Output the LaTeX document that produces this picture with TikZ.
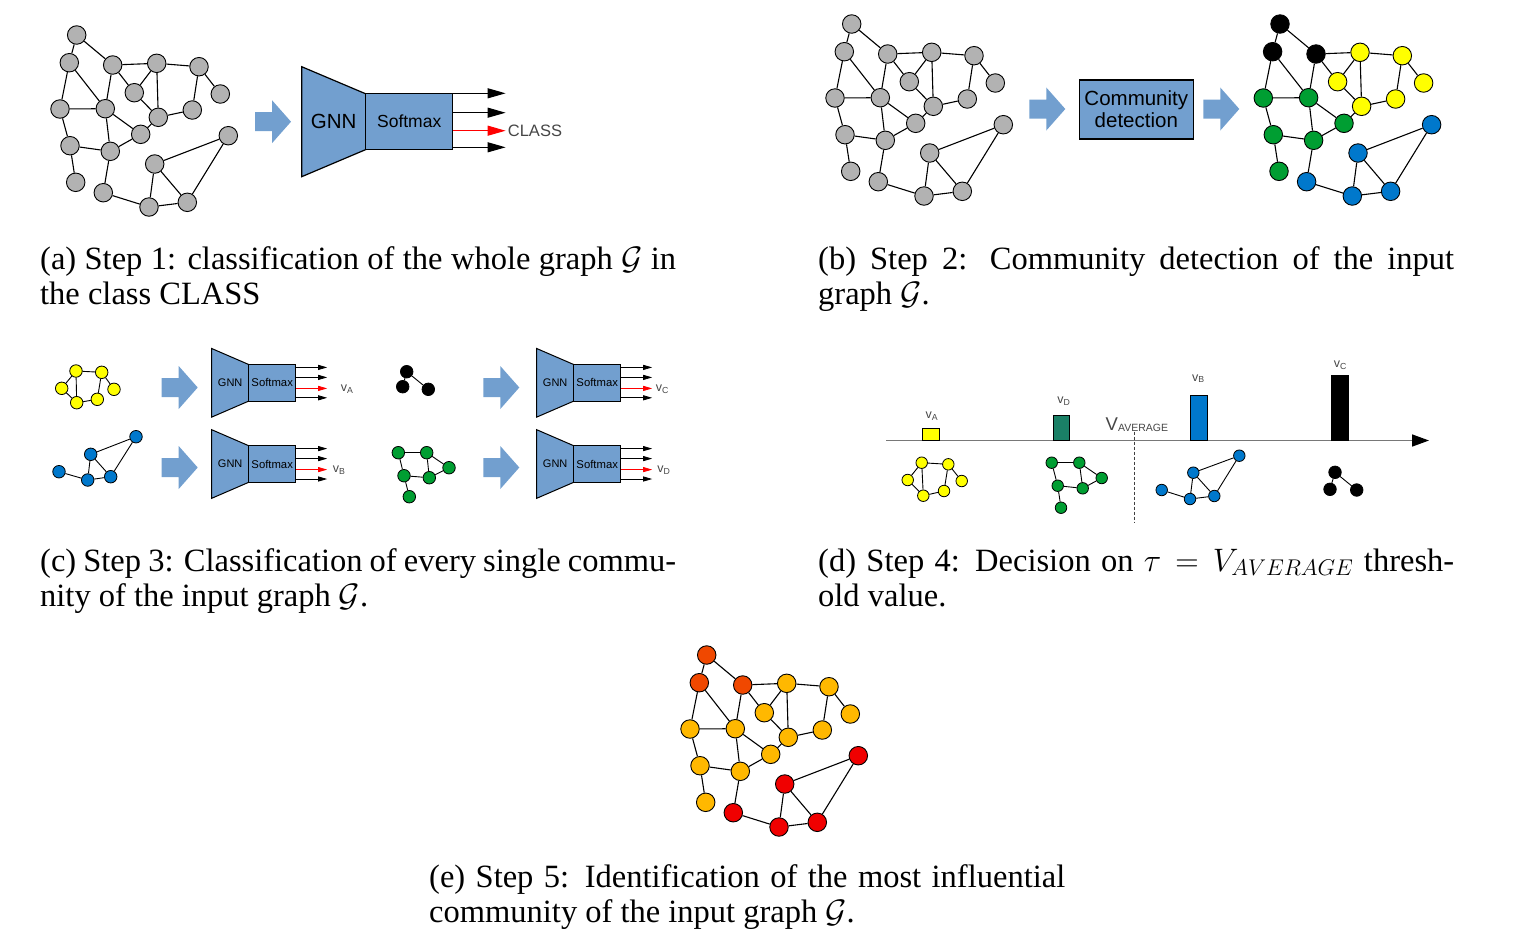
\RequirePackage{fix-cm}
\documentclass[tikz,border=0pt]{standalone}
\usepackage{amsmath}
\usepackage{amssymb}
\usepackage{fontspec}
\setmainfont{Liberation Serif}
\setsansfont{Liberation Sans}
\usetikzlibrary{arrows.meta}

\definecolor{gnnblue}{RGB}{114,159,207}
\definecolor{nodegray}{RGB}{178,178,178}
\definecolor{cyellow}{RGB}{255,255,0}
\definecolor{cgreen}{RGB}{0,158,50}
\definecolor{cblue}{RGB}{0,120,204}
\definecolor{hotorange}{RGB}{240,72,0}
\definecolor{amber}{RGB}{255,184,0}
\definecolor{hotred}{RGB}{240,0,0}
\definecolor{tealbar}{RGB}{26,128,102}
\definecolor{axisgray}{RGB}{120,120,120}
\definecolor{labelgray}{RGB}{70,70,70}

% node / x / y / colour in (b) / colour in (e)
\newcommand{\bignodes}{1/76.7/35/black/hotorange,
 2/69.3/62.7/black/hotorange,
 3/112.7/65/black/hotorange,
 4/156.7/63.3/cyellow/amber,
 5/199/66.7/cyellow/amber,
 6/134.3/92.7/cyellow/amber,
 7/220.3/94/cyellow/amber,
 8/60/109/cgreen/amber,
 9/105.3/108.7/cgreen/amber,
 10/158.3/117.3/cyellow/amber,
 11/192.3/110/cyellow/amber,
 12/140.7/134.3/cgreen/amber,
 13/228.3/135.7/cblue/hotred,
 14/70/145.7/cgreen/amber,
 15/110.3/151.3/cgreen/amber,
 16/154.7/164/cblue/hotred,
 17/75.7/182.3/cgreen/amber,
 18/103.3/192.7/cblue/hotred,
 19/149/207/cblue/hotred,
 20/187.3/202.3/cblue/hotred}
\newcommand{\bigedges}{1/2,1/3,2/8,2/9,3/4,3/9,3/6,4/5,4/6,4/10,5/7,5/11,6/10,8/9,8/14,9/15,9/12,10/11,10/12,12/15,14/15,14/17,15/18,18/19,16/19,19/20,16/20,13/16,13/20}
\newcommand{\yedges}{4/5,4/6,4/10,6/10,10/11,5/11,5/7}
\newcommand{\gedges}{8/9,8/14,9/15,9/12,12/15,14/15,14/17}
\newcommand{\bedges}{13/16,13/20,16/19,16/20,18/19,19/20}
\newcommand{\kedges}{1/2,1/3}

\tikzset{
  gnode/.style={circle, draw=black, line width=0.9pt, minimum size=18.5pt, inner sep=0pt},
  snode/.style={gnode, line width=0.8pt, minimum size=12.5pt},
  dnode/.style={gnode, line width=0.8pt, minimum size=11.5pt},
  link/.style={line width=1.1pt},
  slink/.style={line width=0.9pt},
  blockline/.style={draw=black, line width=1.2pt},
  softbox/.style={rectangle, draw=black, line width=1.2pt, fill=gnnblue, inner sep=0pt},
  outbig/.style={line width=1.1pt, -{Triangle[length=18pt,width=10pt]}},
  outsmall/.style={line width=0.8pt, -{Triangle[length=9pt,width=5pt]}},
  vlabel/.style={inner sep=0pt, text=labelgray, font=\sffamily\fontsize{12.5}{12.5}\selectfont},
  barbox/.style={rectangle, draw=black, line width=0.8pt, inner sep=0pt, minimum width=16.5pt, anchor=south},
  avgline/.style={draw=black!75, line width=0.9pt, dash pattern=on 3pt off 2pt},
  captext/.style={anchor=base west, inner sep=0pt, text width=636pt, align=justify, font=\fontsize{32.5}{35}\selectfont},
  pics/fatarrow/.style={code={
    \fill[gnnblue] (0,-9.5) -- (17,-9.5) -- (17,-21.5) -- (36,0) -- (17,21.5) -- (17,9.5) -- (0,9.5) -- cycle;
  }},
  pics/gnnbig/.style={code={
    \draw[blockline, fill=gnnblue] (0,-55) -- (64,-27.9) -- (64,27.9) -- (0,55) -- cycle;
    \node[font=\sffamily\fontsize{20.5}{20.5}\selectfont] (-gnn) at (32,0) {GNN};
    \node[softbox, minimum width=87pt, minimum height=55.8pt, font=\sffamily\fontsize{17.5}{17.5}\selectfont] (-sm) at (107.5,0) {Softmax};
    \foreach \k/\col in {-28.4/black,-9/black,9/red,25.6/black}
      \draw[outbig, \col] (-sm.east) ++(0,\k) -- ++(52.3,0);
    \node[anchor=west, inner sep=0pt, text=labelgray, font=\sffamily\fontsize{16.5}{16.5}\selectfont] (-cls) at (206,9) {#1};
  }},
  pics/gnnsmall/.style 2 args={code={
    \draw[blockline, line width=1pt, fill=gnnblue] (0,-34.3) -- (37,-18.3) -- (37,18.3) -- (0,34.3) -- cycle;
    \node[font=\sffamily\fontsize{11}{11}\selectfont] (-gnn) at (18.5,0) {GNN};
    \node[softbox, line width=1pt, minimum width=47pt, minimum height=36.6pt, font=\sffamily\fontsize{11.3}{11.3}\selectfont] (-sm) at (60.5,0) {Softmax};
    \foreach \k/\col in {-15.4/black,-5.4/black,5.6/red,15/black}
      \draw[outsmall, \col] (-sm.east) ++(0,\k) -- ++(31,0);
    \node[vlabel, anchor=west] (-lab) at (115+#2,6.6) {#1};
  }}
}

\begin{document}
\begin{tikzpicture}[x=1pt,y=-1pt]
\useasboundingbox (0,0) rectangle (1514,946);

% (a) the whole graph into the classifier
\foreach \i/\x/\y/\cb/\ce in \bignodes
  \node[gnode, fill=nodegray] (a\i) at (\x,\y) {};
\foreach \p/\q in \bigedges
  \draw[link] (a\p) -- (a\q);
\pic at (255,121.7) {fatarrow};
\pic (gnna) at (301.7,121.7) {gnnbig=CLASS};

% (b) community detection
\begin{scope}[shift={(775,-11)}]
  \foreach \i/\x/\y/\cb/\ce in \bignodes
    \node[gnode, fill=nodegray] (bg\i) at (\x,\y) {};
  \foreach \p/\q in \bigedges
    \draw[link] (bg\p) -- (bg\q);
\end{scope}
\pic at (1029.3,109) {fatarrow};
\node[softbox, minimum width=114pt, minimum height=59pt, align=center, font=\sffamily\fontsize{20.5}{22}\selectfont] (cd) at (1136.3,109.5) {Community\\detection};
\pic at (1203.3,109) {fatarrow};
\begin{scope}[shift={(1203.3,-11)}]
  \foreach \i/\x/\y/\cb/\ce in \bignodes
    \node[gnode, fill=\cb] (bc\i) at (\x,\y) {};
  \foreach \p/\q in \bigedges
    \draw[link] (bc\p) -- (bc\q);
\end{scope}

% (c) every community into the classifier
\foreach \i/\x/\y in {4/76/371, 5/101.7/372.3, 6/61.7/388.3, 7/114/389.3, 10/76.7/402.7, 11/97.3/399.3}
  \node[snode, fill=cyellow] (cy\i) at (\x,\y) {};
\foreach \p/\q in \yedges \draw[slink] (cy\p) -- (cy\q);
\foreach \i/\x/\y in {13/136/436.7, 16/90.7/454.3, 18/59/471.7, 19/87.7/480, 20/110.7/476.7}
  \node[snode, fill=cblue] (cb\i) at (\x,\y) {};
\foreach \p/\q in \bedges \draw[slink] (cb\p) -- (cb\q);
\foreach \i/\x/\y in {1/406.7/371.7, 2/402.7/386.7, 3/428.3/389.3}
  \node[snode, fill=black] (ck\i) at (\x,\y) {};
\foreach \p/\q in \kedges \draw[slink] (ck\p) -- (ck\q);
\foreach \i/\x/\y in {8/398.3/452.7, 9/426.7/452.7, 12/449/467.7, 14/404/475.7, 15/429.3/477.7, 17/409.3/496.7}
  \node[snode, fill=cgreen] (cg\i) at (\x,\y) {};
\foreach \p/\q in \gedges \draw[slink] (cg\p) -- (cg\q);

\pic at (161.7,387.5) {fatarrow};
\pic at (161.7,467.5) {fatarrow};
\pic at (483.3,387.5) {fatarrow};
\pic at (483.3,467.5) {fatarrow};
\pic (gnnA) at (211.7,382.8) {gnnsmall={v\textsubscript{A}}{14}};
\pic (gnnB) at (211.7,464) {gnnsmall={v\textsubscript{B}}{6}};
\pic (gnnC) at (536.7,382.8) {gnnsmall={v\textsubscript{C}}{4}};
\pic (gnnD) at (536.7,464) {gnnsmall={v\textsubscript{D}}{5.5}};

% (d) communities ranked on the axis
\coordinate (axstart) at (886,440.5);
\coordinate (axend) at (1429,440.5);
\draw[axisgray, line width=1.6pt, -{Triangle[length=17pt,width=12pt,color=black]}] (axstart) -- (axend);
\node[barbox, fill=cyellow, minimum height=12.4pt] (barA) at (930.9,440.7) {};
\node[barbox, fill=tealbar, minimum height=25.4pt] (barD) at (1061.3,440.7) {};
\node[barbox, fill=cblue, minimum height=45pt] (barB) at (1199,440.7) {};
\node[barbox, fill=black, minimum height=64.7pt] (barC) at (1339.7,440.7) {};
\node[vlabel, anchor=base] (labA) at (932,418.3) {v\textsubscript{A}};
\node[vlabel, anchor=base] (labD) at (1064,403.3) {v\textsubscript{D}};
\node[vlabel, anchor=base] (labB) at (1198.3,381) {v\textsubscript{B}};
\node[vlabel, anchor=base] (labC) at (1340.3,367.3) {v\textsubscript{C}};
\node[anchor=base west, inner sep=0pt, text=labelgray] (vavg) at (1105.5,430) {\sffamily\fontsize{18.5}{18.5}\selectfont V\raisebox{-1.8pt}{\fontsize{10.5}{10.5}\selectfont AVERAGE}};
\coordinate (avgtop) at (1134,431.5);
\coordinate (avgbot) at (1134,523);
\draw[avgline] (avgtop) -- (avgbot);

\foreach \i/\x/\y in {4/921.7/462.7, 5/948.3/464.3, 6/907.7/480, 7/961.7/481, 10/923.3/495.7, 11/944/491}
  \node[dnode, fill=cyellow] (dy\i) at (\x,\y) {};
\foreach \p/\q in \yedges \draw[slink] (dy\p) -- (dy\q);
\foreach \i/\x/\y in {8/1051.7/462.7, 9/1079.3/462.7, 12/1101.7/478, 14/1057.7/485.7, 15/1082.7/488.3, 17/1061/507.7}
  \node[dnode, fill=cgreen] (dg\i) at (\x,\y) {};
\foreach \p/\q in \gedges \draw[slink] (dg\p) -- (dg\q);
\foreach \i/\x/\y in {13/1239.3/455.7, 16/1193.3/472.7, 18/1161.7/490, 19/1190/499, 20/1214.3/496}
  \node[dnode, fill=cblue] (db\i) at (\x,\y) {};
\foreach \p/\q in \bedges \draw[slink] (db\p) -- (db\q);
\foreach \i/\x/\y in {1/1335/472.3, 2/1330/489.3, 3/1356.7/490}
  \node[dnode, minimum size=12.5pt, fill=black] (dk\i) at (\x,\y) {};
\foreach \p/\q in \kedges \draw[slink] (dk\p) -- (dk\q);

% (e) most influential community
\begin{scope}[shift={(630,620)}]
  \foreach \i/\x/\y/\cb/\ce in \bignodes
    \node[gnode, fill=\ce] (e\i) at (\x,\y) {};
  \foreach \p/\q in \bigedges
    \draw[link] (e\p) -- (e\q);
\end{scope}

% captions
\node[captext] (capa) at (40,269) {(a) Step 1: classification of the whole graph $\mathcal{G}$ in\linebreak the class CLASS};
\node[captext] (capb) at (818,269) {(b) Step 2: Community detection of the input\linebreak graph $\mathcal{G}$.};
\node[captext] (capc) at (40,571) {(c) Step 3: Classification of every single commu-\linebreak nity of the input graph $\mathcal{G}$.};
\node[captext] (capd) at (818,571) {(d) Step 4: Decision on $\tau = V_{AVERAGE}$ thresh-\linebreak old value.};
\node[captext] (cape) at (429,887) {(e) Step 5: Identification of the most influential\linebreak community of the input graph $\mathcal{G}$.};
\end{tikzpicture}
\end{document}
